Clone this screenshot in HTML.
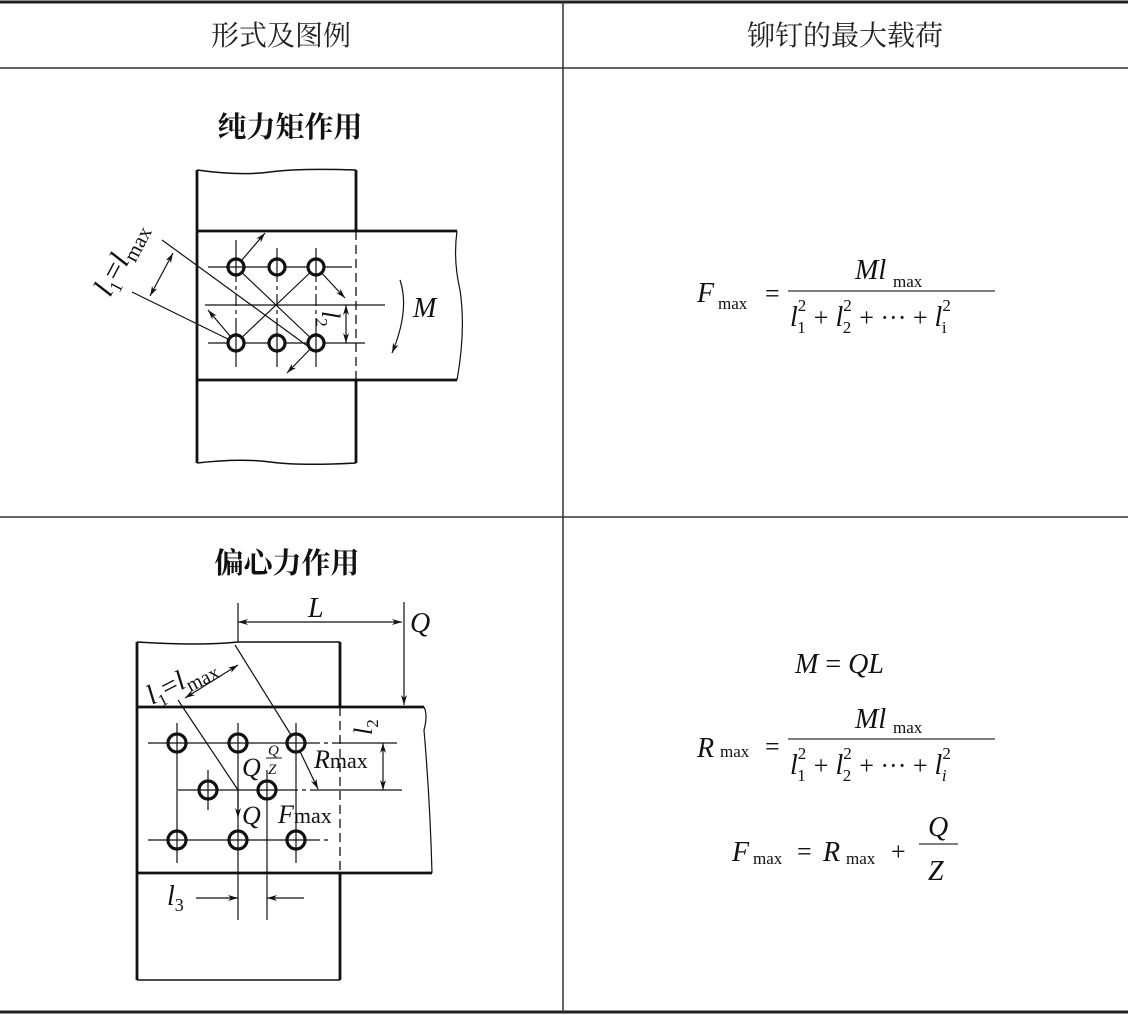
<!DOCTYPE html>
<html><head><meta charset="utf-8"><style>
html,body{margin:0;padding:0;background:#fff;}
svg{display:block}
.t{font-family:"Liberation Serif","Noto Serif CJK SC",serif;font-style:italic;fill:#111}
.r{font-family:"Liberation Serif","Noto Serif CJK SC",serif;fill:#111}
.h{font-family:"Liberation Serif","Noto Serif CJK SC",serif;font-size:28px;fill:#222}
.b{font-family:"Liberation Serif","Noto Serif CJK SC",serif;font-size:29px;font-weight:bold;fill:#111}
</style></head><body>
<svg width="1128" height="1015" viewBox="0 0 1128 1015" xmlns="http://www.w3.org/2000/svg">
<defs>
<marker id="a" viewBox="0 0 10 6" refX="10" refY="3" markerWidth="14" markerHeight="6" markerUnits="userSpaceOnUse" orient="auto-start-reverse"><path d="M0,0 L10,3 L0,6 L3,3z" fill="#111"/></marker>
</defs>
<line x1="0" y1="2" x2="1128" y2="2" stroke="#222" stroke-width="3"/>
<line x1="0" y1="68" x2="1128" y2="68" stroke="#333" stroke-width="1.5"/>
<line x1="0" y1="517" x2="1128" y2="517" stroke="#333" stroke-width="1.5"/>
<line x1="0" y1="1012" x2="1128" y2="1012" stroke="#222" stroke-width="3"/>
<line x1="563" y1="2" x2="563" y2="1012" stroke="#333" stroke-width="1.5"/>
<text class="h" x="281" y="45" text-anchor="middle">形式及图例</text>
<text class="h" x="845" y="45" text-anchor="middle">铆钉的最大载荷</text>

<text class="b" x="290" y="137" text-anchor="middle">纯力矩作用</text>
<g stroke="#111" fill="none">
<path d="M197,170 Q240,176 270,172 Q300,168 356,170" stroke-width="1.5"/>
<path d="M197,463 Q240,458 270,462 Q300,466 356,463" stroke-width="1.5"/>
<line x1="197" y1="170" x2="197" y2="463" stroke-width="2.8"/>
<line x1="356" y1="170" x2="356" y2="231" stroke-width="2.8"/>
<line x1="356" y1="380" x2="356" y2="463" stroke-width="2.8"/>
<line x1="197" y1="231" x2="457" y2="231" stroke-width="2.8"/>
<line x1="197" y1="380" x2="457" y2="380" stroke-width="2.8"/>
<path d="M457,231 Q453,260 460,290 Q466,330 457,380" stroke-width="1.2"/>
<line x1="356" y1="231" x2="356" y2="380" stroke-width="1.3" stroke-dasharray="9,5"/>
<g stroke-width="1.2">
<line x1="208" y1="267" x2="352" y2="267"/><line x1="208" y1="343" x2="365" y2="343"/>
<line x1="205" y1="305" x2="385" y2="305"/>
<line x1="236" y1="240" x2="236" y2="367" stroke-dasharray="42,4,4,4,12,4,4,4,100"/>
<line x1="277" y1="248" x2="277" y2="367" stroke-dasharray="34,4,4,4,12,4,4,4,100"/>
<line x1="316" y1="248" x2="316" y2="367" stroke-dasharray="34,4,4,4,12,4,4,4,100"/>
<line x1="236" y1="267" x2="316" y2="343"/><line x1="236" y1="343" x2="316" y2="267"/>
<line x1="162" y1="240" x2="313" y2="350"/>
<line x1="132" y1="292" x2="236" y2="343"/>
<line x1="150" y1="296" x2="173" y2="253" marker-start="url(#a)" marker-end="url(#a)"/>
<line x1="236" y1="267" x2="265" y2="233" marker-end="url(#a)"/>
<line x1="316" y1="267" x2="345" y2="298" marker-end="url(#a)"/>
<line x1="236" y1="343" x2="208" y2="310" marker-end="url(#a)"/>
<line x1="316" y1="343" x2="287" y2="373" marker-end="url(#a)"/>
<line x1="346" y1="305" x2="346" y2="343" marker-start="url(#a)" marker-end="url(#a)"/>
<path d="M400,280 Q410,310 392,353" marker-end="url(#a)"/>
</g>
<g stroke-width="3.2" fill="#fff"><circle cx="236" cy="267" r="8"/><circle cx="277" cy="267" r="8"/><circle cx="316" cy="267" r="8"/><circle cx="236" cy="343" r="8"/><circle cx="277" cy="343" r="8"/><circle cx="316" cy="343" r="8"/></g>
</g>
<g stroke="#111" stroke-width="1.2"><line x1="236" y1="257" x2="236" y2="277"/><line x1="226" y1="267" x2="246" y2="267"/><line x1="277" y1="257" x2="277" y2="277"/><line x1="316" y1="257" x2="316" y2="277"/><line x1="236" y1="333" x2="236" y2="353"/><line x1="277" y1="333" x2="277" y2="353"/><line x1="316" y1="333" x2="316" y2="353"/></g>
<text class="t" font-size="30" transform="translate(110,298) rotate(-62)">l<tspan font-size="18" dy="6" font-style="normal">1</tspan><tspan dy="-6" font-style="normal">=</tspan>l<tspan font-size="21" dy="6" font-style="normal">max</tspan></text>
<text class="t" font-size="26" transform="translate(322,311) rotate(90)">l<tspan font-size="17" dy="6" font-style="normal">2</tspan></text>
<text class="t" font-size="28" x="413" y="317">M</text>

<text class="b" x="287" y="573" text-anchor="middle">偏心力作用</text>
<g stroke="#111" fill="none">
<path d="M137,642 Q200,646 238,642 L340,642" stroke-width="1.5"/>
<line x1="137" y1="642" x2="137" y2="980" stroke-width="2.8"/>
<line x1="137" y1="980" x2="340" y2="980" stroke-width="1.5"/>
<line x1="340" y1="642" x2="340" y2="707" stroke-width="2.8"/>
<line x1="340" y1="873" x2="340" y2="980" stroke-width="2.8"/>
<line x1="137" y1="707" x2="424" y2="707" stroke-width="2.8"/>
<line x1="137" y1="873" x2="432" y2="873" stroke-width="2.8"/>
<path d="M424,707 Q428,715 424,730 Q430,800 432,873" stroke-width="1.2"/>
<line x1="340" y1="707" x2="340" y2="873" stroke-width="1.3" stroke-dasharray="9,5"/>
<g stroke-width="1.2">
<line x1="238" y1="603" x2="238" y2="642"/>
<line x1="238" y1="622" x2="402" y2="622" marker-start="url(#a)" marker-end="url(#a)"/>
<line x1="404" y1="602" x2="404" y2="705" marker-end="url(#a)"/>
<line x1="148" y1="743" x2="397" y2="743" stroke-dasharray="80,4,4,4"/>
<line x1="178" y1="790" x2="402" y2="790" stroke-dasharray="120,4,4,4"/>
<line x1="148" y1="840" x2="330" y2="840" stroke-dasharray="80,4,4,4"/>
<line x1="177" y1="723" x2="177" y2="863"/>
<line x1="238" y1="723" x2="238" y2="920"/>
<line x1="296" y1="723" x2="296" y2="863"/>
<line x1="208" y1="770" x2="208" y2="810"/>
<line x1="267" y1="770" x2="267" y2="920"/>
<line x1="178" y1="700" x2="238" y2="790"/>
<line x1="235" y1="645" x2="296" y2="743"/>
<line x1="185" y1="698" x2="238" y2="665" marker-start="url(#a)" marker-end="url(#a)"/>
<line x1="296" y1="743" x2="318" y2="789" marker-end="url(#a)"/>
<line x1="383" y1="743" x2="383" y2="790" marker-start="url(#a)" marker-end="url(#a)"/>
<line x1="238" y1="790" x2="238" y2="818" marker-end="url(#a)"/>
<line x1="196" y1="898" x2="238" y2="898" marker-end="url(#a)"/>
<line x1="304" y1="898" x2="267" y2="898" marker-end="url(#a)"/>
</g>
<g stroke-width="3.2" fill="#fff"><circle cx="177" cy="743" r="9"/><circle cx="238" cy="743" r="9"/><circle cx="296" cy="743" r="9"/><circle cx="208" cy="790" r="9"/><circle cx="267" cy="790" r="9"/><circle cx="177" cy="840" r="9"/><circle cx="238" cy="840" r="9"/><circle cx="296" cy="840" r="9"/></g>
</g>
<g stroke="#111" stroke-width="1.2">
<line x1="177" y1="733" x2="177" y2="753"/><line x1="167" y1="743" x2="187" y2="743"/>
<line x1="238" y1="733" x2="238" y2="753"/><line x1="228" y1="743" x2="248" y2="743"/>
<line x1="296" y1="733" x2="296" y2="753"/><line x1="286" y1="743" x2="306" y2="743"/>
<line x1="208" y1="780" x2="208" y2="800"/><line x1="198" y1="790" x2="218" y2="790"/>
<line x1="267" y1="780" x2="267" y2="800"/><line x1="257" y1="790" x2="277" y2="790"/>
<line x1="177" y1="830" x2="177" y2="850"/><line x1="167" y1="840" x2="187" y2="840"/>
<line x1="238" y1="830" x2="238" y2="850"/><line x1="228" y1="840" x2="248" y2="840"/>
<line x1="296" y1="830" x2="296" y2="850"/><line x1="286" y1="840" x2="306" y2="840"/>
</g>
<text class="t" font-size="28" x="308" y="617">L</text>
<text class="t" font-size="28" x="410" y="632">Q</text>
<text class="t" font-size="28" transform="translate(152,705) rotate(-27)">l<tspan font-size="17" dy="6" font-style="normal">1</tspan><tspan dy="-6" font-style="normal">=</tspan>l<tspan font-size="20" dy="6" font-style="normal">max</tspan></text>
<text class="t" font-size="26" transform="translate(372,735) rotate(-90)">l<tspan font-size="17" dy="6" font-style="normal">2</tspan></text>
<text class="t" font-size="26" x="242" y="776">Q</text>
<text class="t" font-size="15" x="268" y="755">Q</text>
<line x1="266" y1="758" x2="282" y2="758" stroke="#111" stroke-width="1"/>
<text class="t" font-size="15" x="268" y="774">Z</text>
<text class="t" font-size="26" x="314" y="768">R<tspan font-style="normal" font-size="22">max</tspan></text>
<text class="t" font-size="26" x="242" y="824">Q</text>
<text class="t" font-size="26" x="278" y="823">F<tspan font-style="normal" font-size="22">max</tspan></text>
<text class="t" font-size="28" x="167" y="905">l<tspan font-size="18" dy="6" font-style="normal">3</tspan></text>

<text class="t" font-size="28" x="697" y="302">F</text>
<text class="r" font-size="17" x="718" y="309">max</text>
<text class="r" font-size="26" x="765" y="302">=</text>
<line x1="788" y1="291" x2="995" y2="291" stroke="#333" stroke-width="1.3"/>
<text class="t" font-size="28" x="855" y="279">Ml</text>
<text class="r" font-size="17" x="893" y="287">max</text>
<text class="t" font-size="28" x="790" y="326">l<tspan font-style="normal" font-size="17" dy="-15">2</tspan><tspan font-style="normal" font-size="17" dx="-9" dy="22">1</tspan><tspan font-style="normal" font-size="26" dx="8" dy="-7">+</tspan> l<tspan font-style="normal" font-size="17" dy="-15">2</tspan><tspan font-style="normal" font-size="17" dx="-9" dy="22">2</tspan><tspan font-style="normal" font-size="26" dx="8" dy="-7">+ ··· +</tspan> l<tspan font-style="normal" font-size="17" dy="-15">2</tspan><tspan font-style="normal" font-size="17" dx="-9" dy="22">i</tspan></text>

<text class="t" font-size="28" x="795" y="673">M <tspan font-style="normal">=</tspan> QL</text>
<text class="t" font-size="28" x="697" y="757">R</text>
<text class="r" font-size="17" x="720" y="757">max</text>
<text class="r" font-size="26" x="765" y="755">=</text>
<line x1="788" y1="739" x2="995" y2="739" stroke="#333" stroke-width="1.3"/>
<text class="t" font-size="28" x="855" y="728">Ml</text>
<text class="r" font-size="17" x="893" y="733">max</text>
<text class="t" font-size="28" x="790" y="774">l<tspan font-style="normal" font-size="17" dy="-15">2</tspan><tspan font-style="normal" font-size="17" dx="-9" dy="22">1</tspan><tspan font-style="normal" font-size="26" dx="8" dy="-7">+</tspan> l<tspan font-style="normal" font-size="17" dy="-15">2</tspan><tspan font-style="normal" font-size="17" dx="-9" dy="22">2</tspan><tspan font-style="normal" font-size="26" dx="8" dy="-7">+ ··· +</tspan> l<tspan font-style="normal" font-size="17" dy="-15">2</tspan><tspan font-size="17" dx="-9" dy="22">i</tspan></text>
<text class="t" font-size="28" x="732" y="861">F</text>
<text class="r" font-size="17" x="753" y="864">max</text>
<text class="r" font-size="26" x="797" y="860">=</text>
<text class="t" font-size="28" x="823" y="861">R</text>
<text class="r" font-size="17" x="846" y="864">max</text>
<text class="r" font-size="26" x="891" y="860">+</text>
<line x1="919" y1="844" x2="958" y2="844" stroke="#333" stroke-width="1.3"/>
<text class="t" font-size="28" x="928" y="836">Q</text>
<text class="t" font-size="28" x="928" y="880">Z</text>
</svg>
</body></html>
